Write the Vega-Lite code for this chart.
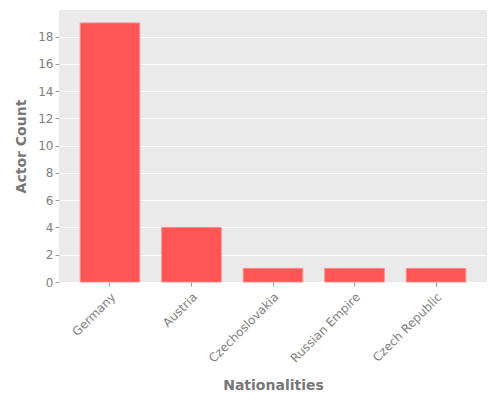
{
  "$schema": "https://vega.github.io/schema/vega-lite/v6.json",
  "width": 428,
  "height": 272,
  "autosize": "none",
  "padding": {"left": 59, "top": 10, "right": 13, "bottom": 118},
  "background": "white",
  "config": {
    "view": {"fill": "#EAEAEA", "stroke": null},
    "font": "DejaVu Sans",
    "axis": {
      "domain": false,
      "gridColor": "white",
      "gridWidth": 1,
      "tickColor": "#999999",
      "tickSize": 4,
      "labelColor": "#808080",
      "labelFont": "DejaVu Sans",
      "labelFontSize": 12,
      "titleColor": "#777777",
      "titleFont": "DejaVu Sans",
      "titleFontSize": 14,
      "titleFontWeight": "bold"
    }
  },
  "data": {
    "values": [
      {"nationality": "Germany", "count": 19},
      {"nationality": "Austria", "count": 4},
      {"nationality": "Czechoslovakia", "count": 1},
      {"nationality": "Russian Empire", "count": 1},
      {"nationality": "Czech Republic", "count": 1}
    ]
  },
  "mark": {"type": "bar", "color": "#FF5555", "stroke": "#FF8A8A", "strokeWidth": 1},
  "encoding": {
    "x": {
      "field": "nationality",
      "type": "nominal",
      "sort": null,
      "title": "Nationalities",
      "scale": {"paddingInner": 0.27, "paddingOuter": 0.26},
      "axis": {
        "labelAngle": -45,
        "labelAlign": "right",
        "labelBaseline": "top",
        "labelPadding": 5,
        "grid": false,
        "titlePadding": 14
      }
    },
    "y": {
      "field": "count",
      "type": "quantitative",
      "title": "Actor Count",
      "scale": {"domain": [0, 19.95], "nice": false},
      "axis": {"values": [0, 2, 4, 6, 8, 10, 12, 14, 16, 18], "grid": true, "titlePadding": 9}
    }
  }
}
